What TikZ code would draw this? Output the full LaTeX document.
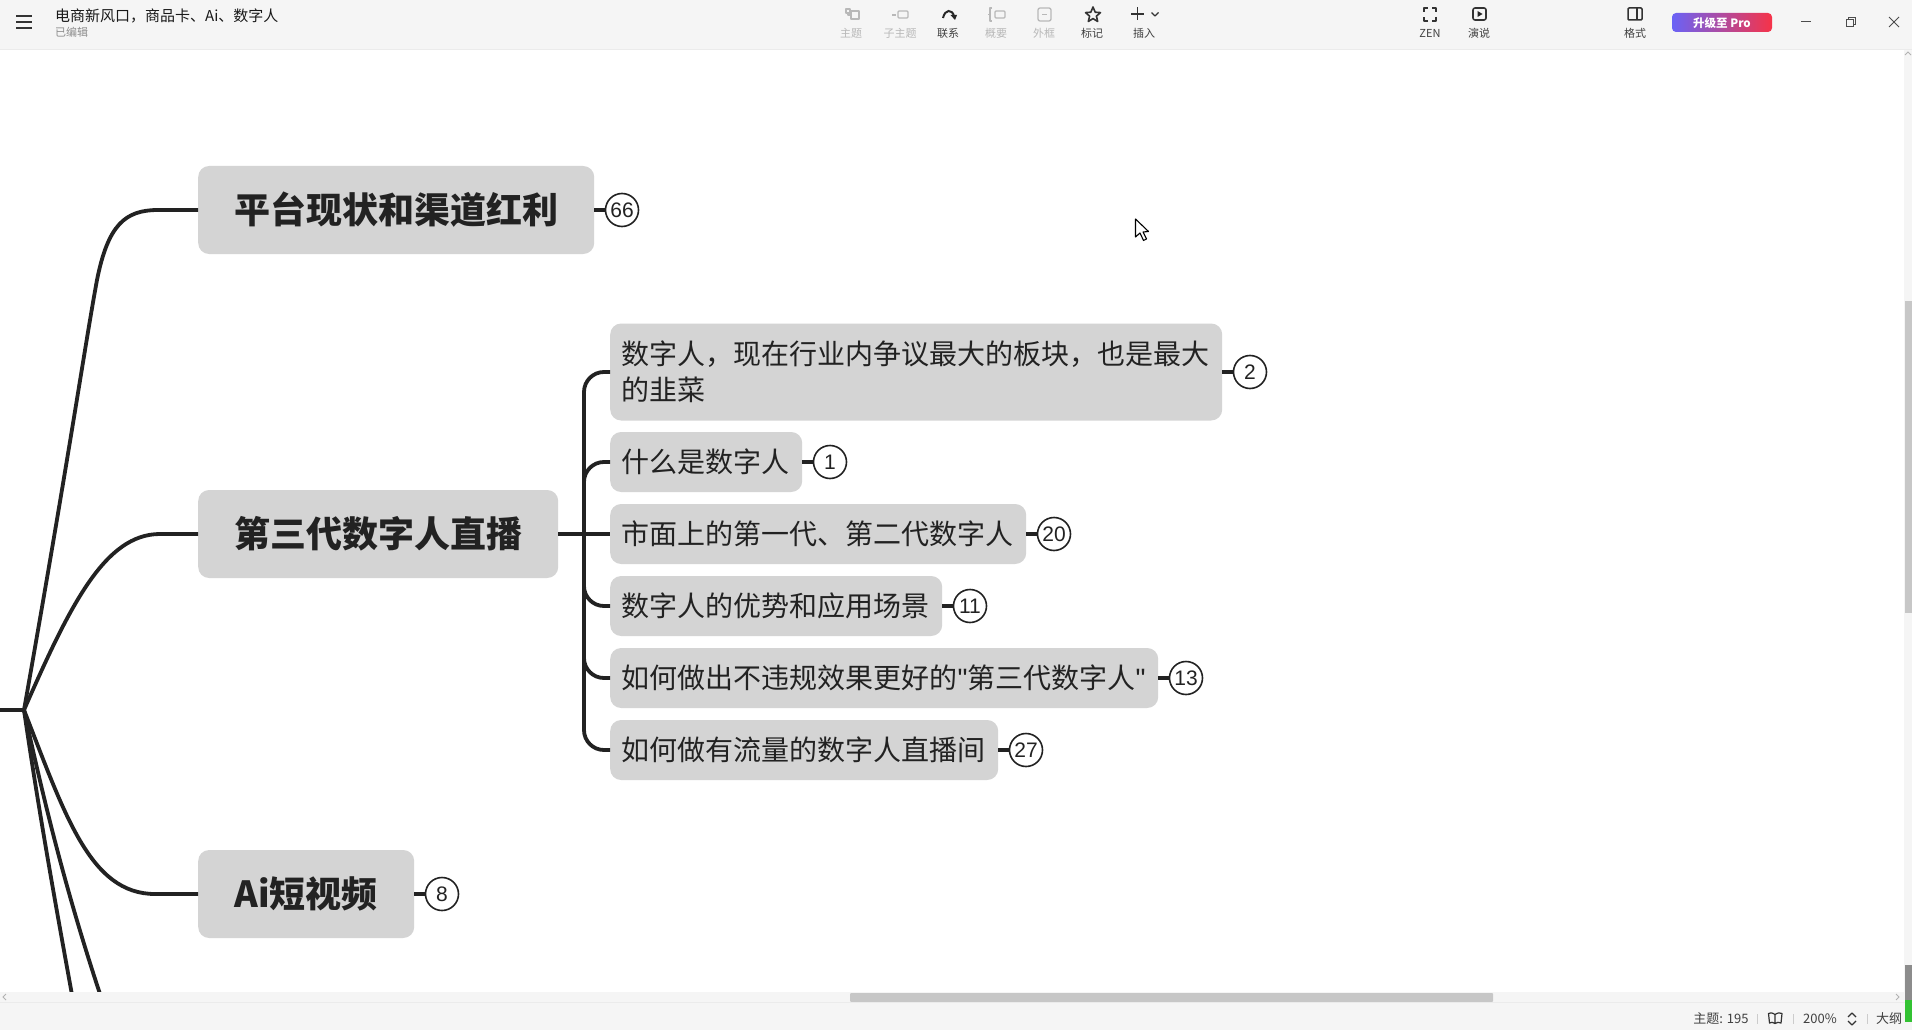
\documentclass[tikz,border=0pt]{standalone}
\usepackage{fontspec}
\setmainfont{Noto Sans CJK SC}
\newfontfamily\digits{Liberation Sans}
\definecolor{boxgray}{HTML}{D4D4D4}
\definecolor{ink}{HTML}{222222}
\definecolor{chrome}{HTML}{F5F5F5}
\definecolor{dim}{HTML}{B8B8B8}
\definecolor{proleft}{HTML}{6A62F6}
\definecolor{proright}{HTML}{F63348}
\newcommand{\fsz}[2]{\fontsize{#1}{#2}\selectfont}
\tikzset{
  mainbox/.style={fill=boxgray,rounded corners=11pt,anchor=west,minimum height=88pt,inner sep=0pt,text=ink,font=\fsz{36}{44}\bfseries},
  subbox/.style={fill=boxgray,rounded corners=11pt,anchor=west,minimum height=60pt,inner sep=0pt,text=ink,font=\fsz{28}{36.5},align=left},
  badge/.style={circle,draw=ink,line width=1.6pt,fill=white,minimum size=33pt,inner sep=0pt,text=ink,font=\digits\fsz{21}{24}},
  conn/.style={draw=ink,line width=3.8pt},
  stub/.style={draw=ink,line width=3.8pt},
  toollabel/.style={font=\fsz{11}{13},text=#1,inner sep=0pt},
  toollabel/.default=black!75,
  icon/.style={draw=#1,line width=1.3pt,line join=round},
  icon/.default=black!80,
  statuslabel/.style={font=\fsz{13}{15},text=black!75,inner sep=0pt}
}
\begin{document}
\begin{tikzpicture}[x=1pt,y=-1pt]
\useasboundingbox (0,0) rectangle (1912,1030);
\fill[white] (0,0) rectangle (1912,1030);

% main topics
\node[mainbox,minimum width=396pt] (t1) at (198,210) {\makebox[396pt][c]{平台现状和渠道红利}};
\node[mainbox,minimum width=360pt] (t2) at (198,534) {\makebox[360pt][c]{第三代数字人直播}};
\node[mainbox,minimum width=216pt] (t3) at (198,894) {\makebox[216pt][c]{Ai短视频}};

% sub topics
\node[subbox,text width=589pt,minimum width=612pt,minimum height=97pt,inner xsep=11.5pt] (a) at (610,372) {数字人，现在行业内争议最大的板块，也是最大\\的韭菜};
\node[subbox,text width=169pt,minimum width=192pt,inner xsep=11.5pt] (b) at (610,462) {什么是数字人};
\node[subbox,text width=393pt,minimum width=416pt,inner xsep=11.5pt] (c) at (610,534) {市面上的第一代、第二代数字人};
\node[subbox,text width=309pt,minimum width=332pt,inner xsep=11.5pt] (d) at (610,606) {数字人的优势和应用场景};
\node[subbox,text width=525pt,minimum width=548pt,inner xsep=11.5pt] (e) at (610,678) {如何做出不违规效果更好的{\digits"}第三代数字人{\digits"}};
\node[subbox,text width=365pt,minimum width=388pt,inner xsep=11.5pt] (f) at (610,750) {如何做有流量的数字人直播间};

% badges
\node[badge] (n66) at (622,210) {66};
\node[badge] (n2) at (1250,372) {2};
\node[badge] (n1) at (830,462) {1};
\node[badge] (n20) at (1054,534) {20};
\node[badge] (n11) at (970,606) {11};
\node[badge] (n13) at (1186,678) {13};
\node[badge] (n27) at (1026,750) {27};
\node[badge] (n8) at (442,894) {8};

% connectors
\coordinate (left) at (-2,710);
\coordinate (root) at (24,710);
\coordinate (off1) at (84,1060);
\coordinate (off2) at (130,1080);
\coordinate (trunk) at (584,534);
\draw[conn] (left) -- (root);
\draw[conn] (root) .. controls (70,450) and (85,345) .. (97,280) .. controls (108,225) and (125,210) .. (158,210) -- (t1.west);
\draw[conn] (root) .. controls (70,605) and (105,534) .. (160,534) -- (t2.west);
\draw[conn] (root) .. controls (65,815) and (90,894) .. (155,894) -- (t3.west);
\draw[conn] (root) .. controls (40,820) and (60,930) .. (off1);
\draw[conn] (root) .. controls (48,820) and (75,930) .. (off2);
\draw[conn] (t2.east) -- (c.west);
\draw[conn,rounded corners=20pt] (trunk) |- (a.west);
\draw[conn,rounded corners=20pt] (trunk) |- (b.west);
\draw[conn,rounded corners=20pt] (trunk) |- (d.west);
\draw[conn,rounded corners=20pt] (trunk) |- (e.west);
\draw[conn,rounded corners=20pt] (trunk) |- (f.west);
\foreach \p/\q in {t1/n66,a/n2,b/n1,c/n20,d/n11,e/n13,f/n27,t3/n8}{\draw[stub] (\p.east) -- (\q.west);}

% cursor
\draw[fill=white,draw=black,line width=1.1pt,line join=round] (1135.5,219) -- (1135.5,237) -- (1140,233) -- (1143.5,240.5) -- (1146.5,239) -- (1143,232) -- (1148.5,231.5) -- cycle;

% top bar
\fill[chrome] (0,0) rectangle (1912,49);
\draw[black!8,line width=1pt] (0,49.5) -- (1912,49.5);
\draw[black!80,line width=1.8pt] (16,16) -- (32,16) (16,22) -- (32,22) (16,28) -- (32,28);
\node[anchor=west,inner sep=0pt,font=\fsz{15}{17},text=black!90] (title) at (55,15.5) {电商新风口，商品卡、Ai、数字人};
\node[anchor=west,inner sep=0pt,font=\fsz{11}{13},text=black!45] (saved) at (55,32) {已编辑};

\node[toollabel=dim] (l1) at (851,33) {主题};
\node[toollabel=dim] (l2) at (900,33) {子主题};
\node[toollabel] (l3) at (948,33) {联系};
\node[toollabel=dim] (l4) at (996,33) {概要};
\node[toollabel=dim] (l5) at (1044,33) {外框};
\node[toollabel] (l6) at (1092,33) {标记};
\node[toollabel] (l7) at (1144,33) {插入};
\node[toollabel] (l8) at (1430,33) {ZEN};
\node[toollabel] (l9) at (1479,33) {演说};
\node[toollabel] (l10) at (1635,33) {格式};

\draw[icon=dim] (846,9) rectangle (850,13) (848,13) |- (850,15);
\draw[icon=dim] (851,11) rectangle (859,19);
\draw[icon=dim] (892,15) -- (896,15);
\draw[icon=dim,rounded corners=1pt] (898,11) rectangle (908,18);
\draw[black!85,line width=2pt] (943,18) .. controls (945,9) and (952,9) .. (954,16);
\fill[black!85] (950.5,15) -- (957,15) -- (955,20) -- cycle;
\draw[icon=dim] (992,8) -- (990,8) -- (990,21) -- (992,21) (990,14.5) -- (988,14.5);
\draw[icon=dim,rounded corners=1pt] (995,11) rectangle (1005,18);
\draw[icon=dim,rounded corners=2pt] (1038,8) rectangle (1051,21);
\draw[icon=dim] (1042,14.5) -- (1047,14.5);
\draw[icon,line width=1.6pt] (1093,7) -- (1095.2,12.2) -- (1100.5,12.6) -- (1096.4,16.1) -- (1097.7,21.5) -- (1093,18.6) -- (1088.3,21.5) -- (1089.6,16.1) -- (1085.5,12.6) -- (1090.8,12.2) -- cycle;
\draw[icon,line width=1.7pt] (1131,14) -- (1144,14) (1137.5,7.5) -- (1137.5,20.5);
\draw[icon] (1151.5,12.5) -- (1155,16) -- (1158.5,12.5);
\draw[icon,line width=1.6pt] (1424,12) |- (1428,8) (1432,8) -| (1436,12) (1436,17) |- (1432,21) (1428,21) -| (1424,17);
\draw[icon,rounded corners=2pt,line width=1.6pt] (1473,8) rectangle (1486,20);
\fill[black!85] (1477.5,11) -- (1482.5,14) -- (1477.5,17) -- cycle;
\draw[icon,rounded corners=1pt,line width=1.5pt] (1628,8) rectangle (1642,20);
\draw[icon] (1637,8) -- (1637,20);

\shade[left color=proleft,right color=proright,rounded corners=4pt] (1672,13) rectangle (1772,32);
\node[inner sep=0pt,text=white,font=\fsz{11.5}{13}\bfseries] (pro) at (1722,23) {升级至 Pro};
\draw[black!70,line width=1pt] (1801,22) -- (1811,22);
\draw[black!70,line width=1pt] (1846,20) rectangle (1853,27);
\draw[black!70,line width=1pt] (1848,20) -- (1848,17.5) -- (1855.5,17.5) -- (1855.5,25) -- (1853,25);
\draw[black!70,line width=1pt] (1889,17) -- (1899,27) (1889,27) -- (1899,17);

% bottom bars
\fill[chrome] (0,992) rectangle (1912,1003);
\fill[black!22,rounded corners=1pt] (850,993) rectangle (1493,1002);
\draw[black!8,line width=1pt] (0,1002.5) -- (1912,1002.5);
\fill[chrome] (0,1003) rectangle (1912,1030);
\draw[black!30,line width=.9pt] (6,994) -- (3,997) -- (6,1000);
\draw[black!30,line width=.9pt] (1896,994) -- (1899,997) -- (1896,1000);

% vertical scroll bar
\fill[chrome] (1904,50) rectangle (1912,992);
\fill[black!22] (1905,301) rectangle (1912,613);
\fill[black!45] (1905,965) rectangle (1912,1000);
\fill[green!70!black!80] (1905,1000) rectangle (1912,1022);
\draw[black!30,line width=.8pt] (1905,55) -- (1908,52) -- (1911,55);

% status bar
\node[statuslabel] (s1) at (1721,1019) {主题: 195};
\draw[black!20,line width=.8pt] (1757,1014) -- (1757,1024) (1793,1014) -- (1793,1024) (1867,1014) -- (1867,1024);
\draw[icon,line width=1.2pt] (1775,1014.5) .. controls (1772,1012.5) and (1770,1012.5) .. (1768.5,1013.5) -- (1769.5,1023) .. controls (1771,1022) and (1773,1022) .. (1775,1023.5) .. controls (1777,1022) and (1779,1022) .. (1781,1023) -- (1782,1013.5) .. controls (1780,1012.5) and (1778,1012.5) .. (1775,1014.5) -- (1775,1023.5);
\node[statuslabel] (s2) at (1820,1019) {200\%};
\draw[icon,line width=1.2pt] (1848,1017) -- (1852,1013) -- (1856,1017) (1848,1021) -- (1852,1025) -- (1856,1021);
\node[statuslabel] (s3) at (1889,1019) {大纲};
\end{tikzpicture}
\end{document}
